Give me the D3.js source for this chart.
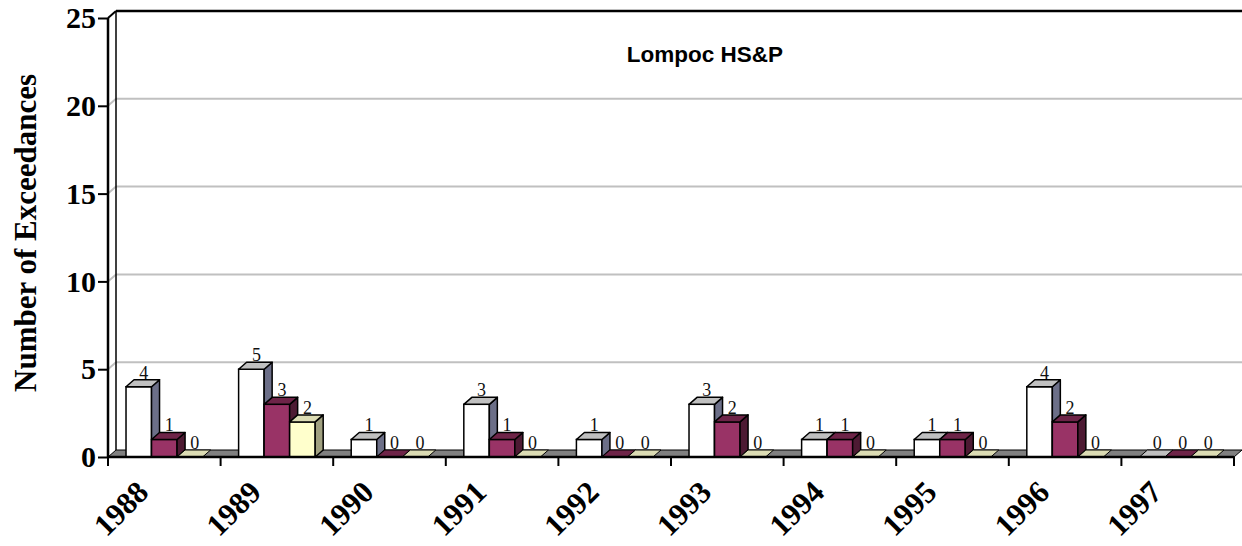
<!DOCTYPE html>
<html>
<head>
<meta charset="utf-8">
<script src="https://cdn.jsdelivr.net/npm/d3@7"></script>
<style>
  html, body { margin: 0; padding: 0; background: #fff; }
  svg { display: block; }
</style>
</head>
<body>
<svg id="chart" width="1242" height="546"></svg>
<script>
// Exceedance counts per year, three series
const years = ["1988", "1989", "1990", "1991", "1992", "1993", "1994", "1995", "1996", "1997"];
const seriesA = [4, 5, 1, 3, 1, 3, 1, 1, 4, 0];
const seriesB = [1, 3, 0, 1, 0, 2, 1, 1, 2, 0];
const seriesC = [0, 2, 0, 0, 0, 0, 0, 0, 0, 0];
const yTicks = [0, 5, 10, 15, 20, 25];
const chartTitle = "Lompoc HS&P";
const yTitle = "Number of Exceedances";

const seriesList = [
  { key: "a", values: seriesA, front: "#ffffff", top: "#c0c0c0", side: "#6c6f88" },
  { key: "b", values: seriesB, front: "#993366", top: "#6e2448", side: "#4d1a33" },
  { key: "c", values: seriesC, front: "#ffffcc", top: "#dcdcb4", side: "#a0a080" }
];

const svg = d3.select("#chart");
const plotLeft = 108, plotRight = 1234, plotTop = 18, plotBottom = 457;
const dx = 8, dy = -7; // 3D depth offset

const x = d3.scaleBand().domain(years).range([plotLeft, plotRight]).paddingInner(0.32).paddingOuter(0.16);
const xs = d3.scaleBand().domain(seriesList.map(s => s.key)).range([0, x.bandwidth()]);
const y = d3.scaleLinear().domain([0, 25]).range([plotBottom, plotTop]);

const serif = "'Liberation Serif', 'Times New Roman', serif";
const pts = arr => arr.map(p => p.join(",")).join(" ");

// Back wall gridlines and side wall diagonals
const grid = svg.append("g");
yTicks.filter(t => t > 0 && t < 25).forEach(t => {
  grid.append("line")
    .attr("x1", plotLeft).attr("y1", y(t)).attr("x2", plotLeft + dx).attr("y2", y(t) + dy)
    .attr("stroke", "#c0c0c0").attr("stroke-width", 2);
  grid.append("line")
    .attr("x1", plotLeft + dx).attr("y1", y(t) + dy).attr("x2", plotRight + dx).attr("y2", y(t) + dy)
    .attr("stroke", "#c0c0c0").attr("stroke-width", 2);
});

// Wall edges
svg.append("line").attr("x1", plotLeft + dx).attr("y1", y(25) + dy).attr("x2", plotRight + dx).attr("y2", y(25) + dy)
  .attr("stroke", "#000").attr("stroke-width", 2.5);
svg.append("line").attr("x1", plotLeft + dx).attr("y1", y(25) + dy).attr("x2", plotLeft + dx).attr("y2", y(0) + dy)
  .attr("stroke", "#000").attr("stroke-width", 1.5);
svg.append("line").attr("x1", plotLeft).attr("y1", y(25)).attr("x2", plotLeft + dx).attr("y2", y(25) + dy)
  .attr("stroke", "#000").attr("stroke-width", 2);

// Floor
const floorPts = [[plotLeft, y(0)], [plotRight, y(0)], [plotRight + dx, y(0) + dy], [plotLeft + dx, y(0) + dy]];
svg.append("polygon").attr("points", pts(floorPts))
  .attr("fill", "#808080").attr("stroke", "#000").attr("stroke-width", 1);

// Bars
const barsG = svg.append("g");
years.forEach((yr, i) => {
  seriesList.forEach(s => {
    const v = s.values[i];
    const x0 = x(yr) + xs(s.key), x1 = x0 + xs.bandwidth();
    const yt = y(v), yb = y(0);
    const g = barsG.append("g");
    if (v > 0) {
      g.append("rect").attr("x", x0).attr("y", yt).attr("width", x1 - x0).attr("height", yb - yt)
        .attr("fill", s.front).attr("stroke", "#000").attr("stroke-width", 1.5);
      g.append("polygon")
        .attr("points", pts([[x1, yt], [x1 + dx, yt + dy], [x1 + dx, yb + dy], [x1, yb]]))
        .attr("fill", s.side).attr("stroke", "#000").attr("stroke-width", 1.5).attr("stroke-linejoin", "round");
    }
    g.append("polygon")
      .attr("points", pts([[x0, yt], [x1, yt], [x1 + dx, yt + dy], [x0 + dx, yt + dy]]))
      .attr("fill", s.top).attr("stroke", "#000").attr("stroke-width", v > 0 ? 1.5 : 1).attr("stroke-linejoin", "round");
  });
});

// Value labels
years.forEach((yr, i) => {
  seriesList.forEach(s => {
    const v = s.values[i];
    const cx = x(yr) + xs(s.key) + xs.bandwidth() / 2 + dx / 2 + 1;
    svg.append("text").attr("x", cx).attr("y", y(v) + dy - 1)
      .attr("text-anchor", "middle").attr("font-family", serif).attr("font-size", 18)
      .attr("fill", "#111").text(v);
  });
});

// Front axes
svg.append("line").attr("x1", plotLeft).attr("y1", plotTop).attr("x2", plotLeft).attr("y2", plotBottom)
  .attr("stroke", "#000").attr("stroke-width", 2.5);
svg.append("line").attr("x1", plotLeft).attr("y1", plotBottom).attr("x2", plotRight).attr("y2", plotBottom)
  .attr("stroke", "#000").attr("stroke-width", 2.5);

// Y axis ticks and labels
const yAxis = d3.axisLeft(y).tickValues(yTicks).tickSize(10).tickPadding(2).tickFormat(d3.format("d"));
const yAxisG = svg.append("g").attr("transform", `translate(${plotLeft},0)`).call(yAxis);
yAxisG.select(".domain").remove();
yAxisG.selectAll(".tick line").attr("stroke", "#000").attr("stroke-width", 2);
yAxisG.selectAll(".tick text").attr("font-family", serif).attr("font-weight", "bold")
  .attr("font-size", 30).attr("fill", "#000");

// X axis ticks at category boundaries
const boundaries = years.map(yr => x(yr) - x.step() * x.paddingOuter()).concat([plotRight]);
svg.append("g").selectAll("line").data(boundaries).join("line")
  .attr("x1", d => d).attr("x2", d => d).attr("y1", plotBottom).attr("y2", plotBottom + 9)
  .attr("stroke", "#000").attr("stroke-width", 2);

// X labels, rotated
svg.append("g").selectAll("text").data(years).join("text")
  .attr("transform", d => `translate(${x(d) + x.bandwidth() / 2 - 14},${plotBottom + 37}) rotate(-45)`)
  .attr("text-anchor", "end").attr("font-family", serif).attr("font-weight", "bold")
  .attr("font-size", 31).attr("fill", "#000").text(d => d);

// Y axis title
svg.append("text").attr("transform", "translate(36,233) rotate(-90)")
  .attr("text-anchor", "middle").attr("font-family", serif).attr("font-weight", "bold")
  .attr("font-size", 31).attr("fill", "#000").text(yTitle);

// Chart title
svg.append("text").attr("x", 705).attr("y", 62).attr("text-anchor", "middle")
  .attr("font-family", "'Liberation Sans', Arial, sans-serif").attr("font-weight", "bold")
  .attr("font-size", 22.5).attr("fill", "#000").text(chartTitle);
</script>
</body>
</html>
